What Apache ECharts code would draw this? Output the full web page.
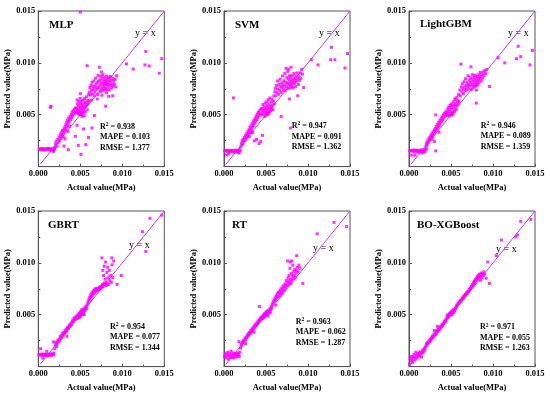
<!DOCTYPE html>
<html><head><meta charset="utf-8">
<script src="https://cdn.jsdelivr.net/npm/echarts@6/dist/echarts.min.js"></script>
<style>html,body{margin:0;padding:0;background:#fff}#c{width:550px;height:397px}</style>
</head><body><div id="c"></div>
<script>
const modelNames = ['MLP','SVM','LightGBM','GBRT','RT','BO-XGBoost'];
const r2Values = ['0.938','0.947','0.946','0.954','0.963','0.971'];
const mapeValues = ['0.103','0.091','0.089','0.077','0.062','0.055'];
const rmseValues = ['1.377','1.362','1.359','1.344','1.287','1.263'];
const xAxisTitle = 'Actual value(MPa)';
const yAxisTitle = 'Predicted value(MPa)';
const axisMin = 0, axisMax = 0.015, axisStep = 0.005;
const identityLine = [[0.0002,0.0002],[0.015,0.015]];

const mlpData = [
[0.00012,0.00168],[0.00025,0.00172],[0.00031,0.00161],[0.00044,0.00175],[0.00052,0.00166],[0.00063,0.00171],[0.00071,0.00158],[0.00083,0.00174],[0.00091,0.00165],[0.00104,0.00169],[0.00112,0.00176],[0.00123,0.00162],[0.00131,0.00173],[0.00142,0.00167],[0.00151,0.00158],[0.00163,0.00171],[0.00174,0.00164],[0.00182,0.00152],[0.00186,0.00178],[0.00193,0.00168],[0.00201,0.00185],[0.00178,0.00146],
[0.00143,0.00572],[0.00152,0.00581],
[0.00205,0.00215],[0.00212,0.00241],[0.00224,0.00198],[0.00231,0.00262],[0.00238,0.00229],[0.00247,0.00285],[0.00253,0.00251],[0.00262,0.00306],[0.00268,0.00273],[0.00274,0.00327],[0.00281,0.00296],[0.00287,0.00348],[0.00293,0.00312],[0.00298,0.00285],[0.00304,0.00361],[0.00309,0.00334],[0.00316,0.00382],[0.00322,0.00352],[0.00327,0.00405],[0.00333,0.00371],[0.00338,0.00429],[0.00344,0.00392],[0.00349,0.00447],[0.00356,0.00415],[0.00361,0.00468],[0.00367,0.00436],[0.00372,0.00389],[0.00378,0.00482],[0.00384,0.00452],[0.00391,0.00503],[0.00397,0.00471],[0.00403,0.00524],[0.00409,0.00489],[0.00416,0.00538],[0.00423,0.00507],[0.00429,0.00552],[0.00436,0.00521],[0.00442,0.00566],[0.00318,0.00268],[0.00352,0.00339],
[0.00306,0.00198],[0.00358,0.00162],[0.00441,0.00292],[0.00476,0.00205],[0.00508,0.00118],[0.00538,0.00362],[0.00566,0.00212],[0.00597,0.00281],[0.00639,0.00372],[0.00668,0.00492],[0.00461,0.00398],
[0.00451,0.00518],[0.00455,0.00562],[0.00462,0.00531],[0.00466,0.00604],[0.00471,0.00548],[0.00474,0.00512],[0.00479,0.00583],[0.00483,0.00627],[0.00487,0.00541],[0.00491,0.00502],[0.00494,0.00569],[0.00498,0.00658],[0.00502,0.00612],[0.00505,0.00527],[0.00509,0.00586],[0.00512,0.00548],[0.00516,0.00634],[0.00519,0.00511],[0.00523,0.00597],[0.00527,0.00562],[0.00531,0.00521],[0.00534,0.00641],[0.00538,0.00578],[0.00542,0.00534],[0.00546,0.00609],[0.00551,0.00655],[0.00555,0.00571],[0.00559,0.00526],[0.00563,0.00618],[0.00568,0.00584],[0.00573,0.00672],[0.00578,0.00597],[0.00583,0.00548],[0.00589,0.00638],[0.00594,0.00611],[0.00599,0.00692],[0.00604,0.00634],[0.00463,0.00642],[0.00501,0.00703],[0.00521,0.00483],[0.00548,0.00492],[0.00488,0.00517],[0.00506,0.00503],[0.00517,0.00522],
[0.00582,0.00972],[0.00609,0.00718],[0.00614,0.00762],[0.00621,0.00691],[0.00628,0.00784],[0.00633,0.00736],[0.00639,0.00812],[0.00645,0.00702],[0.00651,0.00768],[0.00656,0.00741],[0.00661,0.00826],[0.00665,0.00683],[0.00671,0.00773],[0.00676,0.00718],[0.00682,0.00852],[0.00688,0.00792],[0.00693,0.00745],[0.00698,0.00809],[0.00703,0.00762],[0.00708,0.00694],[0.00713,0.00878],[0.00718,0.00821],[0.00722,0.00758],[0.00727,0.00958],[0.00731,0.00836],[0.00736,0.00782],[0.00741,0.00724],[0.00745,0.00868],[0.00749,0.00806],[0.00753,0.00912],[0.00757,0.00753],[0.00761,0.00843],[0.00765,0.00792],[0.00769,0.00886],[0.00773,0.00734],[0.00777,0.00821],[0.00781,0.00769],[0.00785,0.00862],[0.00789,0.00802],[0.00793,0.00742],[0.00797,0.00838],[0.00801,0.00786],[0.00805,0.00753],[0.00809,0.00817],[0.00813,0.00872],[0.00817,0.00794],[0.00821,0.00738],[0.00825,0.00846],[0.00829,0.00812],[0.00833,0.00768],[0.00838,0.00858],[0.00842,0.00791],[0.00847,0.00741],[0.00852,0.00826],[0.00857,0.00869],[0.00862,0.00784],[0.00868,0.00832],[0.00874,0.00758],[0.00879,0.00803],[0.00885,0.00851],[0.00891,0.00776],[0.00898,0.00828],[0.00906,0.00793],[0.00915,0.00841],[0.00924,0.00768],[0.00933,0.00876],[0.00802,0.00582],[0.00886,0.00683],[0.00838,0.00678],[0.00632,0.00641],[0.00702,0.00652],[0.00758,0.00688],[0.00812,0.00712],
[0.0105,0.0099],[0.0113,0.0094],[0.0128,0.0111],[0.0127,0.0098],[0.0132,0.0097],[0.0144,0.0090],[0.0147,0.0104],[0.0050,0.0149]
];

const svmData = [
[0.00008,0.00151],[0.00018,0.00158],[0.00029,0.00112],[0.00036,0.00147],[0.00047,0.00156],[0.00055,0.00122],[0.00062,0.00143],[0.00071,0.00153],[0.00083,0.00148],[0.00092,0.00157],[0.00104,0.00146],[0.00113,0.00154],[0.00121,0.00141],[0.00132,0.00152],[0.00141,0.00159],[0.00152,0.00144],[0.00161,0.00151],[0.00168,0.00138],[0.00174,0.00156],[0.00181,0.00131],[0.00187,0.00149],[0.00193,0.00162],
[0.00112,0.00662],
[0.00201,0.00192],[0.00208,0.00221],[0.00215,0.00248],[0.00223,0.00214],[0.00229,0.00262],[0.00236,0.00239],[0.00243,0.00281],[0.00251,0.00253],[0.00257,0.00302],[0.00264,0.00274],[0.00271,0.00318],[0.00277,0.00291],[0.00284,0.00337],[0.00291,0.00309],[0.00297,0.00356],[0.00303,0.00328],[0.00309,0.00378],[0.00316,0.00347],[0.00322,0.00392],[0.00328,0.00361],[0.00334,0.00412],[0.00341,0.00383],[0.00347,0.00431],[0.00353,0.00398],[0.00359,0.00448],[0.00366,0.00419],[0.00372,0.00466],[0.00378,0.00437],[0.00385,0.00488],[0.00391,0.00452],[0.00397,0.00506],[0.00404,0.00471],[0.00411,0.00524],[0.00418,0.00493],[0.00425,0.00538],[0.00432,0.00508],[0.00439,0.00556],[0.00302,0.00289],[0.00331,0.00324],
[0.00338,0.00331],[0.00361,0.00248],[0.00388,0.00262],[0.00418,0.00221],[0.00437,0.00242],[0.00458,0.00301],[0.00681,0.00482],[0.00779,0.00652],[0.00791,0.00372],[0.00878,0.00683],
[0.00448,0.00502],[0.00453,0.00561],[0.00459,0.00528],[0.00464,0.00598],[0.00469,0.00543],[0.00474,0.00507],[0.00479,0.00576],[0.00484,0.00482],[0.00488,0.00553],[0.00492,0.00612],[0.00497,0.00518],[0.00501,0.00571],[0.00505,0.00536],[0.00509,0.00624],[0.00513,0.00498],[0.00517,0.00587],[0.00521,0.00551],[0.00526,0.00645],[0.00531,0.00509],[0.00535,0.00602],[0.00539,0.00564],[0.00544,0.00528],[0.00548,0.00662],[0.00553,0.00583],[0.00558,0.00541],[0.00562,0.00621],[0.00567,0.00568],[0.00572,0.00647],[0.00577,0.00592],[0.00583,0.00548],[0.00588,0.00631],[0.00594,0.00681],[0.00599,0.00604],[0.00503,0.00501],[0.00518,0.00512],[0.00529,0.00523],
[0.00606,0.00721],[0.00612,0.00752],[0.00618,0.00683],[0.00624,0.00782],[0.00631,0.00713],[0.00638,0.00826],[0.00644,0.00748],[0.00651,0.00698],[0.00657,0.00792],[0.00663,0.00738],[0.00669,0.00842],[0.00675,0.00771],[0.00681,0.00716],[0.00687,0.00808],[0.00692,0.00762],[0.00698,0.00873],[0.00703,0.00789],[0.00709,0.00742],[0.00714,0.00828],[0.00719,0.00778],[0.00724,0.00897],[0.00729,0.00731],[0.00734,0.00812],[0.00739,0.00948],[0.00744,0.00768],[0.00749,0.00858],[0.00754,0.00802],[0.00759,0.00918],[0.00764,0.00752],[0.00769,0.00842],[0.00774,0.00788],[0.00779,0.00876],[0.00784,0.00818],[0.00789,0.00762],[0.00794,0.00861],[0.00799,0.00792],[0.00804,0.00832],[0.00809,0.00772],[0.00814,0.00878],[0.00819,0.00812],[0.00824,0.00758],[0.00829,0.00843],[0.00834,0.00898],[0.00839,0.00798],[0.00844,0.00852],[0.00849,0.00818],[0.00854,0.00771],[0.00859,0.00872],[0.00865,0.00828],[0.00871,0.00903],[0.00878,0.00847],[0.00885,0.00792],[0.00892,0.00868],[0.00899,0.00832],[0.00907,0.00902],[0.00916,0.00851],[0.00925,0.00938],[0.00934,0.00892],[0.00948,0.00762],[0.00798,0.00958],[0.00768,0.00938],
[0.0104,0.0103],[0.0112,0.0098],[0.0128,0.0115],[0.0127,0.0103],[0.0132,0.0103],[0.0144,0.0095],[0.0147,0.0109]
];

const lgbmData = [
[0.00009,0.00152],[0.00019,0.00157],[0.00031,0.00111],[0.00038,0.00148],[0.00048,0.00155],[0.00058,0.00161],[0.00066,0.00142],[0.00072,0.00109],[0.00079,0.00151],[0.00088,0.00158],[0.00097,0.00146],[0.00106,0.00153],[0.00114,0.00139],[0.00123,0.00156],[0.00132,0.00149],[0.00141,0.00152],[0.00149,0.00162],[0.00158,0.00131],[0.00166,0.00148],[0.00174,0.00157],[0.00182,0.00152],[0.00191,0.00141],[0.00198,0.00164],[0.00207,0.00171],
[0.00203,0.00197],[0.00209,0.00226],[0.00216,0.00208],[0.00223,0.00247],[0.00229,0.00228],[0.00236,0.00268],[0.00242,0.00249],[0.00249,0.00284],[0.00255,0.00263],[0.00262,0.00302],[0.00268,0.00281],[0.00275,0.00318],[0.00281,0.00296],[0.00288,0.00336],[0.00294,0.00312],[0.00301,0.00352],[0.00307,0.00331],[0.00314,0.00368],[0.00321,0.00347],[0.00327,0.00389],[0.00334,0.00364],[0.00341,0.00408],[0.00347,0.00382],[0.00354,0.00426],[0.00361,0.00398],[0.00367,0.00442],[0.00374,0.00418],[0.00381,0.00463],[0.00388,0.00436],[0.00394,0.00478],[0.00401,0.00452],[0.00408,0.00497],[0.00415,0.00468],[0.00422,0.00512],[0.00429,0.00487],[0.00436,0.00524],[0.00442,0.00502],[0.00318,0.00498],
[0.00278,0.00268],[0.00318,0.00152],[0.00302,0.00242],[0.00357,0.00331],
[0.00449,0.00528],[0.00455,0.00492],[0.00461,0.00552],[0.00466,0.00511],[0.00472,0.00571],[0.00477,0.00534],[0.00482,0.00489],[0.00487,0.00588],[0.00492,0.00548],[0.00497,0.00512],[0.00502,0.00604],[0.00507,0.00567],[0.00512,0.00526],[0.00517,0.00588],[0.00522,0.00503],[0.00527,0.00624],[0.00532,0.00561],[0.00537,0.00598],[0.00542,0.00532],[0.00548,0.00648],[0.00553,0.00582],[0.00558,0.00612],[0.00563,0.00551],[0.00569,0.00668],[0.00574,0.00592],[0.00579,0.00638],[0.00585,0.00612],[0.00591,0.00694],[0.00597,0.00628],[0.00549,0.00652],[0.00505,0.00498],[0.00521,0.00517],
[0.00605,0.00738],[0.00618,0.00988],[0.00611,0.00681],[0.00623,0.00768],[0.00629,0.00721],[0.00636,0.00798],[0.00642,0.00748],[0.00648,0.00702],[0.00655,0.00818],[0.00661,0.00762],[0.00667,0.00731],[0.00673,0.00846],[0.00679,0.00782],[0.00685,0.00742],[0.00691,0.00812],[0.00697,0.00771],[0.00703,0.00876],[0.00708,0.00792],[0.00714,0.00751],[0.00719,0.00832],[0.00738,0.00962],[0.00724,0.00781],[0.00729,0.00858],[0.00734,0.00812],[0.00742,0.00742],[0.00747,0.00842],[0.00752,0.00788],[0.00757,0.00886],[0.00762,0.00762],[0.00767,0.00821],[0.00772,0.00862],[0.00777,0.00792],[0.00801,0.00612],[0.00782,0.00842],[0.00787,0.00772],[0.00792,0.00878],[0.00797,0.00812],[0.00802,0.00852],[0.00807,0.00781],[0.00812,0.00823],[0.00817,0.00868],[0.00822,0.00792],[0.00827,0.00841],[0.00832,0.00886],[0.00837,0.00812],[0.00842,0.00852],[0.00848,0.00908],[0.00854,0.00868],[0.00861,0.00828],[0.00868,0.00892],[0.00876,0.00852],[0.00884,0.00912],[0.00893,0.00876],[0.00903,0.00928],[0.00914,0.00896],[0.00926,0.00938],[0.00958,0.00772],[0.00802,0.00738],
[0.0106,0.0105],[0.0114,0.0100],[0.0130,0.0116],[0.0128,0.0104],[0.0133,0.0106],[0.0144,0.0098],[0.0147,0.0112]
];

const gbrtData = [
[0.00008,0.00112],[0.00017,0.00118],[0.00028,0.00172],[0.00036,0.00109],[0.00044,0.00121],[0.00053,0.00113],[0.00052,0.00082],[0.00061,0.00107],[0.00069,0.00119],[0.00078,0.00111],[0.00086,0.00116],[0.00094,0.00108],[0.00101,0.00148],[0.00103,0.00122],[0.00112,0.00112],[0.00121,0.00104],[0.00129,0.00117],[0.00138,0.00111],[0.00146,0.00123],[0.00154,0.00109],[0.00163,0.00115],[0.00171,0.00121],[0.00179,0.00112],[0.00187,0.00131],[0.00182,0.00238],
[0.00196,0.00172],[0.00203,0.00208],[0.00211,0.00231],[0.00218,0.00194],[0.00225,0.00219],[0.00232,0.00252],[0.00239,0.00238],[0.00246,0.00262],[0.00253,0.00247],[0.00261,0.00289],[0.00268,0.00271],[0.00275,0.00298],[0.00282,0.00282],[0.00289,0.00318],[0.00296,0.00302],[0.00303,0.00329],[0.00311,0.00318],[0.00318,0.00347],[0.00325,0.00331],[0.00332,0.00358],[0.00339,0.00342],[0.00346,0.00372],[0.00341,0.00292],[0.00353,0.00381],[0.00361,0.00368],[0.00368,0.00392],[0.00375,0.00403],[0.00382,0.00389],[0.00389,0.00418],[0.00396,0.00405],[0.00403,0.00432],[0.00411,0.00448],[0.00418,0.00436],[0.00425,0.00461],[0.00432,0.00468],[0.00439,0.00455],[0.00446,0.00478],
[0.00452,0.00468],[0.00458,0.00481],[0.00463,0.00462],[0.00468,0.00492],[0.00473,0.00471],[0.00478,0.00502],[0.00483,0.00482],[0.00488,0.00512],[0.00493,0.00489],[0.00498,0.00521],[0.00502,0.00478],[0.00507,0.00532],[0.00512,0.00508],[0.00516,0.00548],[0.00521,0.00519],[0.00525,0.00501],[0.00529,0.00538],[0.00534,0.00518],[0.00538,0.00556],[0.00542,0.00529],[0.00547,0.00502],[0.00551,0.00541],[0.00556,0.00568],[0.00561,0.00552],[0.00567,0.00578],[0.00574,0.00561],[0.00581,0.00592],[0.00589,0.00608],[0.00597,0.00627],
[0.00604,0.00648],[0.00611,0.00668],[0.00618,0.00642],[0.00624,0.00692],[0.00631,0.00671],[0.00637,0.00708],[0.00643,0.00682],[0.00649,0.00721],[0.00655,0.00702],[0.00661,0.00734],[0.00667,0.00712],[0.00674,0.00746],[0.00681,0.00724],[0.00688,0.00752],[0.00695,0.00731],[0.00702,0.00748],[0.00709,0.00738],[0.00716,0.00756],[0.00723,0.00742],[0.00729,0.00762],[0.00735,0.00752],[0.00741,0.00771],[0.00747,0.00758],[0.00753,0.00778],[0.00758,0.01048],[0.00759,0.00768],[0.00765,0.00792],[0.00768,0.00928],[0.00771,0.00772],[0.00776,0.00878],[0.00781,0.00802],[0.00786,0.00968],[0.00791,0.00789],[0.00796,0.00842],[0.00801,0.01008],[0.00806,0.00812],[0.00811,0.00781],[0.00816,0.00908],[0.00821,0.00798],[0.00827,0.00958],[0.00833,0.00856],[0.00839,0.00792],[0.00846,0.00928],[0.00853,0.00828],[0.00861,0.00878],[0.00869,0.00812],[0.00878,0.00982],[0.00887,0.00858],[0.00897,0.01018],[0.00938,0.00792],[0.00988,0.00878],[0.00876,0.01048],
[0.0124,0.0130],[0.0128,0.0111],[0.0133,0.0143],[0.0147,0.0146]
];

const rtData = [
[0.00006,0.00098],[0.00014,0.00128],[0.00022,0.00082],[0.00031,0.00118],[0.00039,0.00101],[0.00047,0.00138],[0.00054,0.00072],[0.00062,0.00108],[0.00069,0.00126],[0.00077,0.00088],[0.00084,0.00149],[0.00091,0.00112],[0.00099,0.00094],[0.00107,0.00131],[0.00114,0.00082],[0.00122,0.00118],[0.00129,0.00102],[0.00137,0.00128],[0.00144,0.00091],[0.00152,0.00119],[0.00159,0.00104],[0.00167,0.00132],[0.00174,0.00112],[0.00182,0.00098],[0.00189,0.00138],[0.00178,0.00241],
[0.00197,0.00178],[0.00204,0.00218],[0.00212,0.00201],[0.00219,0.00238],[0.00226,0.00226],[0.00233,0.00251],[0.00241,0.00236],[0.00248,0.00268],[0.00255,0.00259],[0.00262,0.00281],[0.00258,0.00221],[0.00269,0.00278],[0.00276,0.00302],[0.00283,0.00291],[0.00291,0.00318],[0.00298,0.00307],[0.00305,0.00331],[0.00312,0.00318],[0.00319,0.00348],[0.00326,0.00336],[0.00333,0.00362],[0.00341,0.00348],[0.00348,0.00378],[0.00355,0.00365],[0.00362,0.00392],[0.00358,0.00331],[0.00369,0.00382],[0.00376,0.00408],[0.00383,0.00396],[0.00391,0.00422],[0.00398,0.00411],[0.00405,0.00438],[0.00412,0.00426],[0.00419,0.00452],[0.00426,0.00441],[0.00433,0.00468],[0.00441,0.00456],[0.00448,0.00472],[0.00422,0.00578],
[0.00455,0.00482],[0.00461,0.00463],[0.00466,0.00492],[0.00471,0.00472],[0.00476,0.00501],[0.00481,0.00482],[0.00486,0.00512],[0.00491,0.00491],[0.00496,0.00518],[0.00501,0.00496],[0.00506,0.00526],[0.00511,0.00508],[0.00516,0.00534],[0.00521,0.00512],[0.00526,0.00488],[0.00531,0.00542],[0.00536,0.00518],[0.00541,0.00532],[0.00546,0.00558],[0.00551,0.00521],[0.00556,0.00548],[0.00562,0.00578],[0.00568,0.00562],[0.00575,0.00598],[0.00583,0.00612],[0.00591,0.00628],[0.00599,0.00641],[0.00618,0.00592],
[0.00607,0.00662],[0.00614,0.00641],[0.00621,0.00681],[0.00628,0.00662],[0.00635,0.00702],[0.00642,0.00678],[0.00649,0.00718],[0.00656,0.00672],[0.00663,0.00708],[0.00669,0.00738],[0.00676,0.00692],[0.00682,0.00728],[0.00688,0.00758],[0.00694,0.00712],[0.00701,0.00748],[0.00707,0.00778],[0.00713,0.00732],[0.00719,0.00768],[0.00725,0.00798],[0.00731,0.00752],[0.00737,0.00782],[0.00743,0.00828],[0.00749,0.00778],[0.00755,0.00812],[0.00758,0.01018],[0.00761,0.00852],[0.00767,0.00792],[0.00773,0.00878],[0.00779,0.00821],[0.00785,0.00948],[0.00791,0.00842],[0.00797,0.00802],[0.00803,0.00898],[0.00809,0.00832],[0.00815,0.00872],[0.00819,0.00978],[0.00825,0.00852],[0.00831,0.00918],[0.00837,0.00878],[0.00843,0.00938],[0.00849,0.00862],[0.00855,0.00902],[0.00866,0.01068],[0.00868,0.00928],[0.00875,0.00958],[0.00883,0.00912],[0.00892,0.00978],[0.00905,0.00948],[0.00938,0.00802],[0.00808,0.01018],[0.00789,0.01008],
[0.0111,0.0128],[0.0131,0.0139],[0.0146,0.0135]
];

const xgbData = [
[0.00007,0.00021],[0.00015,0.00078],[0.00022,0.00052],[0.00029,0.00098],[0.00037,0.00068],[0.00044,0.00042],[0.00051,0.00088],[0.00058,0.00118],[0.00066,0.00092],[0.00073,0.00062],[0.00081,0.00138],[0.00088,0.00108],[0.00095,0.00082],[0.00103,0.00124],[0.00111,0.00098],[0.00118,0.00132],[0.00126,0.00108],[0.00133,0.00141],[0.00141,0.00112],[0.00149,0.00092],[0.00156,0.00132],[0.00164,0.00158],[0.00171,0.00138],[0.00179,0.00172],[0.00187,0.00158],[0.00194,0.00182],
[0.00201,0.00198],[0.00208,0.00221],[0.00215,0.00208],[0.00222,0.00232],[0.00229,0.00224],[0.00236,0.00248],[0.00243,0.00238],[0.00251,0.00262],[0.00258,0.00251],[0.00265,0.00276],[0.00272,0.00268],[0.00279,0.00291],[0.00286,0.00279],[0.00293,0.00306],[0.00301,0.00294],[0.00308,0.00318],[0.00315,0.00309],[0.00322,0.00334],[0.00329,0.00322],[0.00336,0.00349],[0.00343,0.00338],[0.00351,0.00362],[0.00358,0.00352],[0.00365,0.00378],[0.00372,0.00366],[0.00379,0.00391],[0.00386,0.00382],[0.00393,0.00405],[0.00401,0.00396],[0.00408,0.00418],[0.00415,0.00412],[0.00422,0.00436],[0.00429,0.00428],[0.00436,0.00451],[0.00443,0.00442],[0.00302,0.00348],[0.00338,0.00388],
[0.00451,0.00472],[0.00457,0.00492],[0.00462,0.00468],[0.00467,0.00498],[0.00472,0.00481],[0.00477,0.00506],[0.00482,0.00492],[0.00487,0.00512],[0.00492,0.00498],[0.00497,0.00521],[0.00502,0.00508],[0.00507,0.00532],[0.00512,0.00502],[0.00517,0.00528],[0.00522,0.00541],[0.00527,0.00518],[0.00532,0.00548],[0.00537,0.00528],[0.00542,0.00552],[0.00547,0.00538],[0.00553,0.00561],[0.00559,0.00572],[0.00566,0.00582],[0.00573,0.00591],[0.00581,0.00602],[0.00589,0.00611],[0.00597,0.00618],[0.00605,0.00628],[0.00613,0.00638],[0.00621,0.00631],[0.00629,0.00652],
[0.00637,0.00658],[0.00644,0.00672],[0.00651,0.00662],[0.00658,0.00681],[0.00665,0.00689],[0.00672,0.00698],[0.00679,0.00692],[0.00686,0.00712],[0.00693,0.00708],[0.00701,0.00726],[0.00708,0.00721],[0.00715,0.00742],[0.00722,0.00738],[0.00729,0.00758],[0.00736,0.00751],[0.00743,0.00772],[0.00749,0.00768],[0.00755,0.00792],[0.00761,0.00781],[0.00767,0.00808],[0.00773,0.00796],[0.00779,0.00824],[0.00785,0.00812],[0.00791,0.00838],[0.00797,0.00826],[0.00803,0.00852],[0.00809,0.00841],[0.00815,0.00866],[0.00821,0.00848],[0.00827,0.00878],[0.00833,0.00862],[0.00839,0.00892],[0.00845,0.00868],[0.00851,0.00832],[0.00857,0.00886],[0.00863,0.00902],[0.00869,0.00858],[0.00876,0.00892],[0.00884,0.00878],[0.00892,0.00912],[0.00901,0.00891],[0.00938,0.01008],[0.00958,0.00802],[0.00918,0.00852],
[0.0104,0.0107],[0.0110,0.0122],[0.0127,0.0125],[0.0129,0.0127],[0.0133,0.0140],[0.0145,0.0142]
];

const panelData = [mlpData, svmData, lgbmData, gbrtData, rtData, xgbData];

// layout (pixels)
const colLeft = [38.3, 224, 409];
const rowTop = [11, 211];
const gridW = 126, gridH = 155.6;
const yNameGap = [15, 20, 21];
const titlePos = [[49,25],[235,25],[420,24],[48,225],[232,225],[417,225]];
const yxPos = [[135,33],[319,33],[508,33],[129,245],[313,248],[496,249]];
const statPos = [[100,126.7],[291.7,126],[480.7,125.7],[110,326.7],[295.7,321.7],[480,327.3]];

const FONT = '"Liberation Serif","Times New Roman",serif';
const AXIS_COLOR = '#555';
const PT_COLOR = '#FF00FF';
const LINE_COLOR = '#CC33FF';

const grids = [], xAxes = [], yAxes = [], series = [], graphics = [];
for (let i = 0; i < 6; i++) {
  const r = Math.floor(i / 3), c = i % 3;
  grids.push({left: colLeft[c], top: rowTop[r], width: gridW, height: gridH,
    show: true, borderColor: AXIS_COLOR, borderWidth: 1, backgroundColor: 'transparent'});
  const common = {
    type: 'value', gridIndex: i, min: axisMin, max: axisMax, interval: axisStep,
    splitLine: {show: false},
    axisLine: {show: true, onZero: false, lineStyle: {color: AXIS_COLOR, width: 1}},
    axisTick: {show: true, inside: true, length: 3, lineStyle: {color: AXIS_COLOR}},
    minorTick: {show: true, splitNumber: 2, length: 2, lineStyle: {color: AXIS_COLOR}},
    axisLabel: {color: '#000', fontFamily: FONT, fontWeight: 'bold', fontSize: 8.5, margin: 3},
    nameTextStyle: {color: '#000', fontFamily: FONT, fontWeight: 'bold', fontSize: 8.5},
    nameLocation: 'middle'
  };
  xAxes.push(Object.assign({}, common, {
    name: xAxisTitle, nameGap: 17,
    axisLabel: Object.assign({}, common.axisLabel, {formatter: v => v.toFixed(3)})
  }));
  yAxes.push(Object.assign({}, common, {
    name: yAxisTitle, nameGap: yNameGap[c],
    axisLabel: Object.assign({}, common.axisLabel, {formatter: v => (v === 0 ? '' : v.toFixed(3))})
  }));
  series.push({type: 'line', xAxisIndex: i, yAxisIndex: i, data: identityLine, showSymbol: false,
    symbol: 'none', lineStyle: {color: LINE_COLOR, width: 1}, silent: true, z: 2});
  series.push({type: 'scatter', xAxisIndex: i, yAxisIndex: i, data: panelData[i], symbol: 'rect',
    symbolSize: 3, itemStyle: {color: PT_COLOR}, silent: true, z: 3});

  graphics.push({type: 'text', x: titlePos[i][0], y: titlePos[i][1],
    style: {text: modelNames[i], fill: '#000', font: 'bold 11px ' + FONT, textAlign: 'left', textVerticalAlign: 'middle'}});
  graphics.push({type: 'text', x: yxPos[i][0], y: yxPos[i][1],
    style: {text: 'y = x', fill: '#000', font: '10px ' + FONT, textAlign: 'left', textVerticalAlign: 'middle'}});
  const sx = statPos[i][0], sy = statPos[i][1];
  graphics.push({type: 'text', x: sx, y: sy,
    style: {text: '{a|R}{s|2}{a| = ' + r2Values[i] + '}', textAlign: 'left', textVerticalAlign: 'middle',
      rich: {
        a: {fontFamily: FONT, fontWeight: 'bold', fontSize: 8, fill: '#000', lineHeight: 10},
        s: {fontFamily: FONT, fontWeight: 'bold', fontSize: 5.5, fill: '#000', verticalAlign: 'top', lineHeight: 6}
      }}});
  graphics.push({type: 'text', x: sx, y: sy + 10.5,
    style: {text: 'MAPE = ' + mapeValues[i], fill: '#000', font: 'bold 8px ' + FONT, textAlign: 'left', textVerticalAlign: 'middle'}});
  graphics.push({type: 'text', x: sx, y: sy + 21,
    style: {text: 'RMSE = ' + rmseValues[i], fill: '#000', font: 'bold 8px ' + FONT, textAlign: 'left', textVerticalAlign: 'middle'}});
}

const chart = echarts.init(document.getElementById('c'), null, {renderer: 'canvas'});
chart.setOption({
  animation: false,
  backgroundColor: '#fff',
  grid: grids, xAxis: xAxes, yAxis: yAxes, series: series, graphic: graphics
});
</script></body></html>
